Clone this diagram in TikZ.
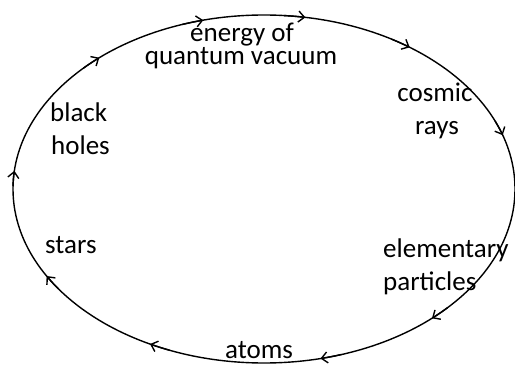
\documentclass[tikz,border=0pt]{standalone}
\usepackage{fontspec}
\setmainfont{Carlito}
\usetikzlibrary{arrows.meta,calc}
\begin{document}
\begin{tikzpicture}[x=1pt,y=1pt,
  cyc/.style={line width=1.4pt},
  tipline/.style={line width=1.4pt,-{Straight Barb[length=6pt,width=11pt]}},
  lbl/.style={inner sep=0pt,font=\fontsize{27}{32}\selectfont}]
\useasboundingbox (0,0) rectangle (515,365);
\coordinate (C) at (264,176);
\draw[cyc] (C) ellipse [x radius=251, y radius=174];
\foreach \ang in {131,104,80.5,54.5,18,-48,-77,-117,-150,174}{
  \draw[tipline] ($(C)+({251*cos(\ang+5)},{174*sin(\ang+5)})$) arc[start angle=\ang+5,end angle=\ang,x radius=251,y radius=174];
}
\node[lbl,anchor=base] (energy1) at (242,323) {energy of};
\node[lbl,anchor=base] (energy2) at (241,300) {quantum vacuum};
\node[lbl,anchor=base] (cosmic1) at (435,263) {cosmic};
\node[lbl,anchor=base] (cosmic2) at (437,230) {rays};
\node[lbl,anchor=base west] (black1) at (50,243) {black};
\node[lbl,anchor=base west] (black2) at (51,210) {holes};
\node[lbl,anchor=base west] (stars) at (45,112) {stars};
\node[lbl,anchor=base west] (elem1) at (383,108) {elementary};
\node[lbl,anchor=base west] (elem2) at (383,75) {particles};
\node[lbl,anchor=base west] (atoms) at (225,7) {atoms};
\end{tikzpicture}
\end{document}
